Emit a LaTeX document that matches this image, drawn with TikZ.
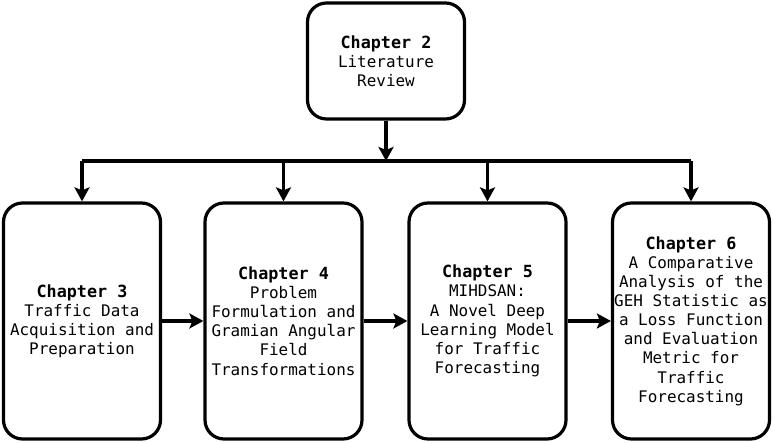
\documentclass[tikz,border=0pt]{standalone}
\usepackage{fontspec}
\setmainfont{DejaVu Sans Mono}
\usetikzlibrary{arrows.meta}
\newcommand{\chap}[1]{{\fontsize{16.8}{19.2}\selectfont\bfseries\spaceskip=0.602em\relax Chapter #1}}
\tikzset{
  chapbox/.style={draw, line width=3.2bp, rounded corners=19bp,
    text width=157bp, minimum width=157bp, inner sep=0pt,
    font=\fontsize{16}{19.2}\selectfont,
    execute at begin node={\centering\spaceskip=0.602em\relax}},
  link/.style={line width=3.2bp, -{Stealth[length=14bp,width=15bp,inset=3bp]}}
}
\begin{document}
\begin{tikzpicture}[x=1bp,y=1bp]
        \useasboundingbox (0,0) rectangle (773,443);
        \node [chapbox, minimum height=116bp] (ch2) at (386,382)
          {\chap{2}\\Literature\\Review};
        \node [chapbox, minimum height=236bp] (ch3) at (82,122)
          {\chap{3}\\Traffic Data\\Acquisition and\\Preparation};
        \node [chapbox, minimum height=236bp] (ch4) at (283.5,122)
          {\chap{4}\\Problem\\Formulation and\\Gramian Angular\\Field\\Transformations};
        \node [chapbox, minimum height=236bp] (ch5) at (487.5,122)
          {\chap{5}\\MIHDSAN:\\A Novel Deep\\Learning Model\\for Traffic\\Forecasting};
        \node [chapbox, minimum height=236bp] (ch6) at (691,122)
          {\chap{6}\\A Comparative\\Analysis of the\\GEH Statistic as\\a Loss Function\\and Evaluation\\Metric for\\Traffic\\Forecasting};

        \coordinate (bus) at (386,282);
        \draw [link] (ch2) -- (bus);
        \draw [line width=3.2bp] (ch3.north |- bus) -- (ch6.north |- bus);
        \foreach \n in {ch3,ch4,ch5,ch6}
        {
          \draw [link] (\n.north |- bus) -- (\n);
        }
        \foreach \a/\b in {ch3/ch4,ch4/ch5,ch5/ch6}
        {
          \draw [link] (\a) -- (\b);
        }
      \end{tikzpicture}
\end{document}
